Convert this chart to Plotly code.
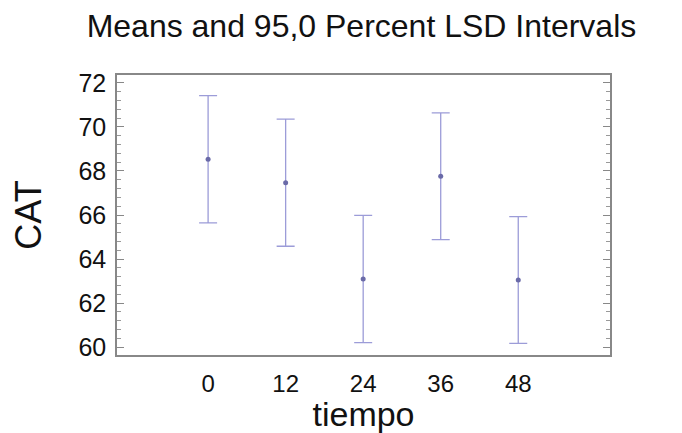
import plotly.graph_objects as go

# Mean CAT per sampling time, with 95% LSD half-widths
tiempo = [0, 12, 24, 36, 48]
means = [68.53, 67.47, 63.09, 67.76, 63.05]
lsd_half = [2.89, 2.89, 2.89, 2.88, 2.88]
x_ticks = [0, 12, 24, 36, 48]
y_ticks = [60, 62, 64, 66, 68, 70, 72]

fig = go.Figure()
fig.add_trace(go.Scatter(
    x=tiempo, y=means, mode="markers",
    marker=dict(size=5, color="#6a6aa8"),
    error_y=dict(type="data", array=lsd_half, symmetric=True,
                 color="#9c9cd8", thickness=1.3, width=9),
    showlegend=False,
))

font = "Liberation Sans, Arial, sans-serif"
fig.update_layout(
    width=682, height=433,
    margin=dict(l=117, r=72, t=75, b=78),
    paper_bgcolor="white", plot_bgcolor="white",
    title=dict(text="Means and 95,0 Percent LSD Intervals", x=0.53, xanchor="center",
               y=0.94, yanchor="middle",
               font=dict(family=font, size=32, color="#111")),
    font=dict(family=font, color="#111"),
)
fig.update_xaxes(
    range=[-14.1, 62.2], tickvals=x_ticks, ticktext=[str(v) for v in x_ticks],
    showgrid=False, zeroline=False, ticks="",
    showline=True, linecolor="#888", linewidth=1.5, mirror=True,
    tickfont=dict(size=24), ticklabelstandoff=6,
    title=dict(text="tiempo", font=dict(size=34), standoff=0),
)
fig.update_yaxes(
    range=[59.64, 72.36], tickvals=y_ticks,
    showgrid=False, zeroline=False,
    ticks="inside", ticklen=7, tickcolor="#888", tickwidth=1.2,
    minor=dict(dtick=0.4, tick0=60, ticks="inside", ticklen=4, tickcolor="#999", tickwidth=1),
    showline=True, linecolor="#888", linewidth=1.5, mirror="allticks",
    tickfont=dict(size=25), ticklabelstandoff=4,
    title=dict(text="CAT", font=dict(size=36), standoff=26),
)

fig.write_html("out.html")
